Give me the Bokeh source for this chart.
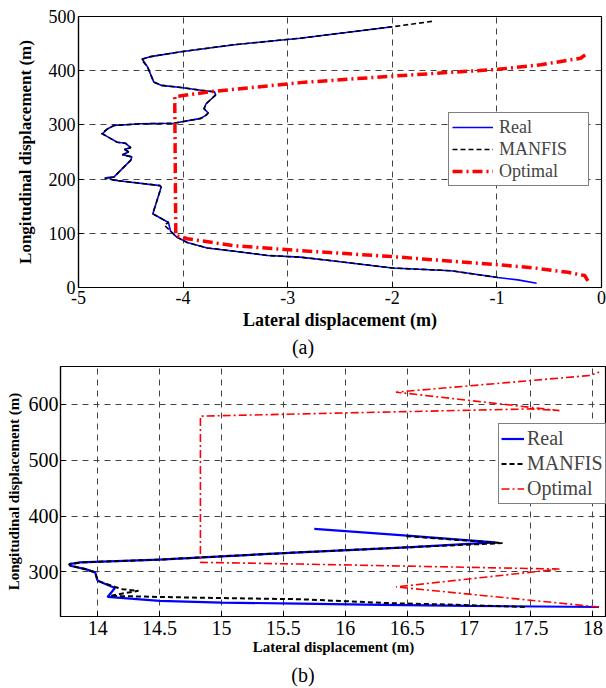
from bokeh.plotting import figure
from bokeh.models import Range1d, FixedTicker, Div
from bokeh.embed import file_html
from bokeh.resources import INLINE

# ---------------- data: chart (a) ----------------
a_real_x = [-0.62, -0.80, -0.99, -1.44, -2.00, -2.56, -2.88, -3.19, -3.51, -3.77, -3.96, -4.06,
            -4.12, -4.14, -4.29, -4.26, -4.21, -4.22, -4.66, -4.73, -4.66, -4.50, -4.49, -4.58,
            -4.52, -4.56, -4.50, -4.55, -4.63, -4.72, -4.77, -4.72, -4.66, -4.41, -4.09, -3.83,
            -3.78, -3.76, -3.80, -3.78, -3.69, -3.70, -3.83, -4.02, -4.21, -4.28, -4.34, -4.39,
            -4.31, -4.02, -3.51, -2.88, -2.00]
a_real_y = [8, 14, 18.5, 31, 36, 49, 56, 59, 67, 73, 83, 93,
            104, 120, 136, 154, 185, 188, 198, 203, 204, 235, 241, 245,
            250, 255, 258, 266, 268, 278, 284, 293, 299, 302, 303, 312,
            318, 322, 330, 339, 355, 361, 364, 369, 373, 379, 407, 421,
            426, 435, 448, 460, 481]
a_manfis_x = [-0.99, -1.44, -2.00, -2.56, -2.88, -3.19, -3.51, -3.77, -3.96, -4.06,
              -4.12, -4.18, -4.14, -4.29, -4.26, -4.21, -4.22, -4.66, -4.75, -4.66, -4.50, -4.49,
              -4.58, -4.52, -4.56, -4.50, -4.55, -4.63, -4.72, -4.78, -4.72, -4.66, -4.41, -4.09,
              -3.83, -3.78, -3.76, -3.80, -3.78, -3.69, -3.70, -3.83, -4.02, -4.21, -4.28, -4.34,
              -4.40, -4.31, -4.02, -3.51, -2.88, -2.00, -1.62]
a_manfis_y = [18.5, 31, 36, 49, 56, 59, 67, 73, 83, 93,
              104, 115, 120, 136, 154, 185, 188, 198, 202, 204, 235, 241,
              245, 250, 255, 258, 266, 268, 278, 284, 293, 299, 302, 303,
              312, 318, 322, 330, 339, 355, 361, 364, 369, 373, 379, 407,
              421, 426, 435, 448, 460, 481, 491]
a_opt_x = [-0.13, -0.16, -0.32, -0.64, -0.99, -2.00, -2.88, -3.51, -3.96, -4.07, -4.08,
           -3.75, -2.88, -2.00, -0.99, -0.58, -0.20, -0.13]
a_opt_y = [12, 22, 28, 36, 42, 57, 68, 77, 90, 96, 352,
           361, 378, 390, 402.5, 411, 423, 433]
a_xticks = [-5, -4, -3, -2, -1, 0]
a_xtick_labels = ["-5", "-4", "-3", "-2", "-1", "0"]
a_yticks = [0, 100, 200, 300, 400, 500]

# ---------------- data: chart (b) ----------------
b_real_x = [18.05, 17.0, 16.3, 15.63, 15.0, 14.5, 14.08, 14.14, 14.0, 13.98, 13.90, 13.78,
            13.77, 13.86, 14.5, 15.63, 16.5, 17.21, 16.5, 15.75]
b_real_y = [237, 239, 241, 243, 245, 248, 255, 271, 284, 299, 305, 311,
            314, 317, 322, 335, 344, 353, 365, 377]
b_manfis_x = [17.45, 16.9, 16.35, 15.63, 15.0, 14.5, 14.10, 14.22, 14.33, 14.20, 14.14, 14.0,
              13.98, 13.90, 13.78, 13.77, 13.88, 14.5, 15.63, 16.5, 17.27, 16.49]
b_manfis_y = [237, 241, 244, 251, 253, 255, 257, 262, 266, 269, 273, 284,
              299, 305, 311, 314, 317, 322, 335, 344, 351.5, 364]
b_opt_x = [18.05, 16.41, 17.73, 15.63, 14.83, 14.83, 15.63, 17.50, 17.73, 16.41, 17.98, 18.05]
b_opt_y = [237, 273, 305, 314, 317, 579, 583, 592, 589, 622, 652, 658]
b_xticks = [14, 14.5, 15, 15.5, 16, 16.5, 17, 17.5, 18]
b_xtick_labels = ["14", "14.5", "15", "15.5", "16", "16.5", "17", "17.5", "18"]
b_yticks = [300, 400, 500, 600]

SERIF = "Liberation Serif"


def style(p, xticks, xlabels, yticks, tick_size, xlab_size, ylab_size,
          x_std, y_std, xl_std, yl_std):
    p.background_fill_color = "white"
    p.border_fill_color = "white"
    p.outline_line_color = "black"
    p.outline_line_width = 1.2
    p.xaxis.ticker = FixedTicker(ticks=xticks)
    p.xaxis.major_label_overrides = {t: l for t, l in zip(xticks, xlabels)}
    p.yaxis.ticker = FixedTicker(ticks=yticks)
    for ax in (p.xaxis[0], p.yaxis[0]):
        ax.axis_line_color = "black"
        ax.axis_line_width = 1.2
        ax.major_tick_in = 5
        ax.major_tick_out = 0
        ax.minor_tick_line_color = None
        ax.major_tick_line_color = "black"
        ax.major_label_text_font = SERIF
        ax.major_label_text_font_size = tick_size
        ax.major_label_text_color = "black"
        ax.axis_label_text_font = SERIF
        ax.axis_label_text_font_style = "bold"
        ax.axis_label_text_color = "black"
    p.xaxis.axis_label_text_font_size = xlab_size
    p.yaxis.axis_label_text_font_size = ylab_size
    p.xaxis.major_label_standoff = x_std
    p.yaxis.major_label_standoff = y_std
    p.xaxis.axis_label_standoff = xl_std
    p.yaxis.axis_label_standoff = yl_std
    for g in (p.xgrid[0], p.ygrid[0]):
        g.grid_line_color = "#444444"
        g.grid_line_dash = "6 5"
        g.grid_line_width = 1


# ---------------- figure (a) ----------------
p1 = figure(width=606, height=335, output_backend="svg", toolbar_location=None,
            x_range=Range1d(-5, 0), y_range=Range1d(0, 500),
            x_axis_label="Lateral displacement (m)",
            y_axis_label="Longitudinal displacement (m)",
            min_border_left=78, min_border_right=5, min_border_top=16, min_border_bottom=48)
style(p1, a_xticks, a_xtick_labels, a_yticks, "18px", "18px", "17px", 3, 3, 3, 11)

p1.line(a_real_x, a_real_y, color="blue", line_width=1.6, legend_label="Real")
p1.line(a_manfis_x, a_manfis_y, color="black", line_width=1.6, line_dash="5 3",
        legend_label="MANFIS")
p1.line(a_opt_x, a_opt_y, color="red", line_width=3.5, line_dash="10 4 2 4",
        legend_label="Optimal")

lg1 = p1.legend[0]
lg1.location = (370, 101)
lg1.border_line_color = "black"
lg1.border_line_width = 1.2
lg1.background_fill_alpha = 1
lg1.label_text_font = SERIF
lg1.label_text_font_size = "18px"
lg1.padding = 3
lg1.spacing = 0
lg1.margin = 0
lg1.glyph_width = 41
lg1.glyph_height = 22
lg1.label_height = 22
lg1.label_standoff = 6
lg1.label_width = 86

# ---------------- figure (b) ----------------
p2 = figure(width=606, height=303, output_backend="svg", toolbar_location=None,
            x_range=Range1d(13.7, 18.11), y_range=Range1d(220, 668),
            x_axis_label="Lateral displacement (m)",
            y_axis_label="Longitudinal displacement (m)",
            min_border_left=60, min_border_right=0, min_border_top=6, min_border_bottom=47)
style(p2, b_xticks, b_xtick_labels, b_yticks, "20px", "15px", "15px", 4, 2, 1, 4)

p2.line(b_real_x, b_real_y, color="blue", line_width=2.2, legend_label="Real")
p2.line(b_manfis_x, b_manfis_y, color="black", line_width=2, line_dash="5 3",
        legend_label="MANFIS")
p2.line(b_opt_x, b_opt_y, color="red", line_width=1.6, line_dash="8 3 2 3",
        legend_label="Optimal")

lg2 = p2.legend[0]
lg2.location = (438, 112)
lg2.border_line_color = "black"
lg2.border_line_width = 1.2
lg2.background_fill_alpha = 1
lg2.label_text_font = SERIF
lg2.label_text_font_size = "20px"
lg2.padding = 2
lg2.spacing = 0
lg2.margin = 0
lg2.glyph_width = 23
lg2.glyph_height = 25
lg2.label_height = 25
lg2.label_standoff = 3
lg2.label_width = 76

cap_style = {"text-align": "center", "font-family": SERIF, "font-size": "20px",
             "color": "black"}
cap_a = Div(text="(a)", width=606, height=25, margin=0,
            styles=dict(cap_style, **{"line-height": "25px"}))
cap_b = Div(text="(b)", width=606, height=25, margin=0,
            styles=dict(cap_style, **{"line-height": "25px"}))

open("out.html", "w").write(file_html([p1, cap_a, p2, cap_b], INLINE))
